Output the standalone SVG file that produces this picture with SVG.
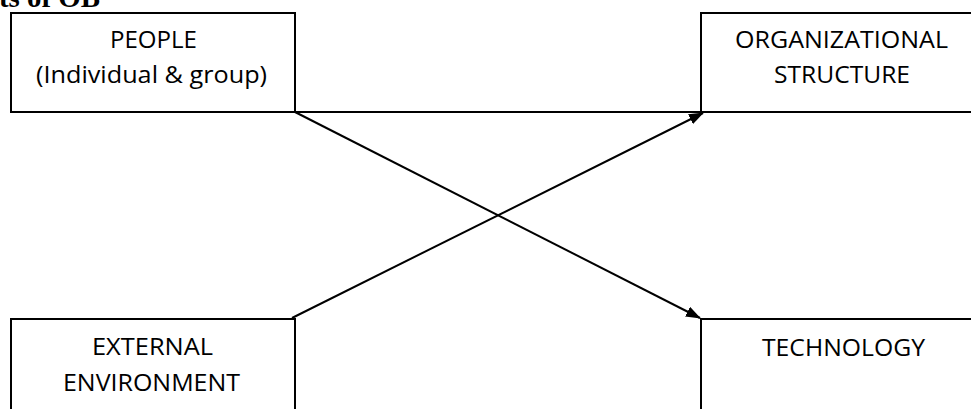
<svg xmlns="http://www.w3.org/2000/svg" width="971" height="409" viewBox="0 0 971 409">
<defs>
<style>
.box{fill:#fff;stroke:#000;stroke-width:2}
.lbl{font-family:"Open Sans","Noto Sans","Liberation Sans",sans-serif;font-size:24px;fill:#000;text-anchor:middle}
.title{font-family:"Liberation Serif","DejaVu Serif",serif;font-weight:bold;font-size:30px;fill:#000}
.conn{stroke:#000;stroke-width:2;fill:none}
</style>
<marker id="arr" viewBox="0 0 15 11" refX="14" refY="5.5" markerWidth="15" markerHeight="11" markerUnits="userSpaceOnUse" orient="auto">
<path d="M0,0 L15,5.5 L0,11 Z" fill="#000"/>
</marker>
</defs>
<rect width="971" height="409" fill="#fff"/>
<text class="title" x="-1" y="6.5" textLength="101" lengthAdjust="spacingAndGlyphs">ts of OB</text>
<g id="people">
<rect class="box" x="11" y="13" width="284" height="99"/>
<text class="lbl" x="153.5" y="48" textLength="87" lengthAdjust="spacingAndGlyphs">PEOPLE</text>
<text class="lbl" x="151.5" y="83" textLength="231" lengthAdjust="spacingAndGlyphs">(Individual &amp; group)</text>
</g>
<g id="org-structure">
<rect class="box" x="701" y="13" width="300" height="99"/>
<text class="lbl" x="841.5" y="48" textLength="213" lengthAdjust="spacingAndGlyphs">ORGANIZATIONAL</text>
<text class="lbl" x="842" y="83" textLength="136" lengthAdjust="spacingAndGlyphs">STRUCTURE</text>
</g>
<g id="external-environment">
<rect class="box" x="11" y="319" width="284" height="120"/>
<text class="lbl" x="152.5" y="355" textLength="121" lengthAdjust="spacingAndGlyphs">EXTERNAL</text>
<text class="lbl" x="151.5" y="391" textLength="177" lengthAdjust="spacingAndGlyphs">ENVIRONMENT</text>
</g>
<g id="technology">
<rect class="box" x="701" y="319" width="300" height="120"/>
<text class="lbl" x="843.5" y="356" textLength="163" lengthAdjust="spacingAndGlyphs">TECHNOLOGY</text>
</g>
<g id="connectors">
<line class="conn" x1="295" y1="112" x2="701" y2="112"/>
<line class="conn" x1="295" y1="112" x2="700" y2="318" marker-end="url(#arr)"/>
<line class="conn" x1="292" y1="318" x2="703" y2="113" marker-end="url(#arr)"/>
</g>
</svg>
